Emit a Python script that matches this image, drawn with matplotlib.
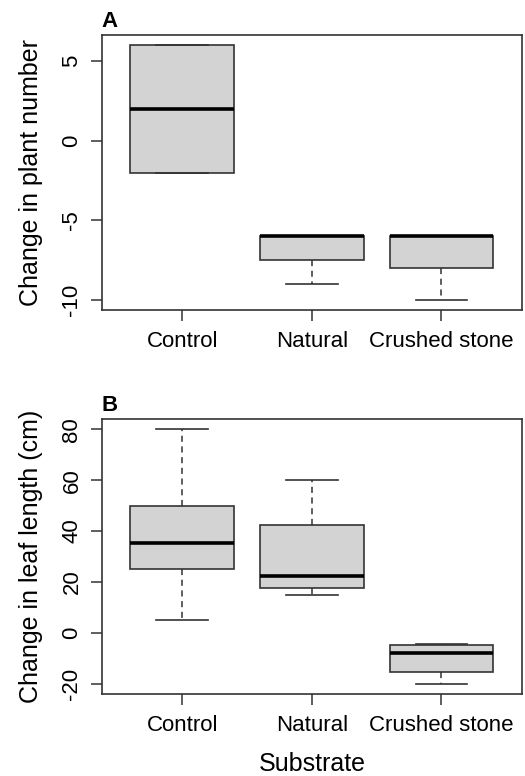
import matplotlib.pyplot as plt

# Data
groups = ['Control', 'Natural', 'Crushed stone']

# Panel A: change in plant number
a_whislo = [-2, -9, -10]
a_q1 = [-2, -7.5, -8]
a_med = [2, -6, -6]
a_q3 = [6, -6, -6]
a_whishi = [6, -6, -6]

# Panel B: change in leaf length (cm)
b_whislo = [5, 15, -20]
b_q1 = [25, 17.5, -15.5]
b_med = [35.5, 22.5, -8]
b_q3 = [50, 42.5, -4.8]
b_whishi = [80, 60, -4.3]

plt.rcParams['font.family'] = ['Liberation Sans', 'DejaVu Sans']


def make_stats(lo, q1, med, q3, hi):
    stats = []
    for i in range(len(groups)):
        stats.append({'whislo': lo[i], 'q1': q1[i], 'med': med[i],
                      'q3': q3[i], 'whishi': hi[i], 'fliers': []})
    return stats


def draw_panel(ax, stats, ylim, yticks, ylabel, letter):
    ax.bxp(stats, positions=[1, 2, 3], widths=0.8, patch_artist=True,
           showfliers=False,
           boxprops=dict(facecolor='#d3d3d3', edgecolor='#333333', linewidth=1.2),
           medianprops=dict(color='black', linewidth=2.6, solid_capstyle='butt'),
           whiskerprops=dict(color='#333333', linewidth=1.1, linestyle=(0, (4, 3))),
           capprops=dict(color='#333333', linewidth=1.2),
           capwidths=0.4)
    ax.set_xlim(0.38, 3.62)
    ax.set_ylim(*ylim)
    ax.set_xticks([1, 2, 3])
    ax.set_xticklabels(groups, fontsize=16)
    ax.set_yticks(yticks)
    ax.set_yticklabels([str(t) for t in yticks], fontsize=16, rotation=90, va='center')
    ax.tick_params(axis='both', direction='out', length=8, width=1.1, color='#333333')
    ax.tick_params(axis='x', pad=7)
    ax.tick_params(axis='y', pad=6)
    for s in ax.spines.values():
        s.set_color('#333333')
        s.set_linewidth(1.2)
    ax.set_ylabel(ylabel, fontsize=18, labelpad=13)
    ax.text(0.0, 1.012, letter, transform=ax.transAxes, fontsize=16,
            fontweight='bold', ha='left', va='bottom')


fig = plt.figure(figsize=(5.25, 7.76), dpi=100)
ax1 = fig.add_axes([0.194, 0.6005, 0.80, 0.3544])
ax2 = fig.add_axes([0.194, 0.1057, 0.80, 0.3543])

draw_panel(ax1, make_stats(a_whislo, a_q1, a_med, a_q3, a_whishi),
           (-10.64, 6.64), [-10, -5, 0, 5], 'Change in plant number', 'A')
draw_panel(ax2, make_stats(b_whislo, b_q1, b_med, b_q3, b_whishi),
           (-24, 84), [-20, 0, 20, 40, 60, 80], 'Change in leaf length (cm)', 'B')
ax2.set_xlabel('Substrate', fontsize=18, labelpad=12)

fig.savefig('out.png', dpi=100)
